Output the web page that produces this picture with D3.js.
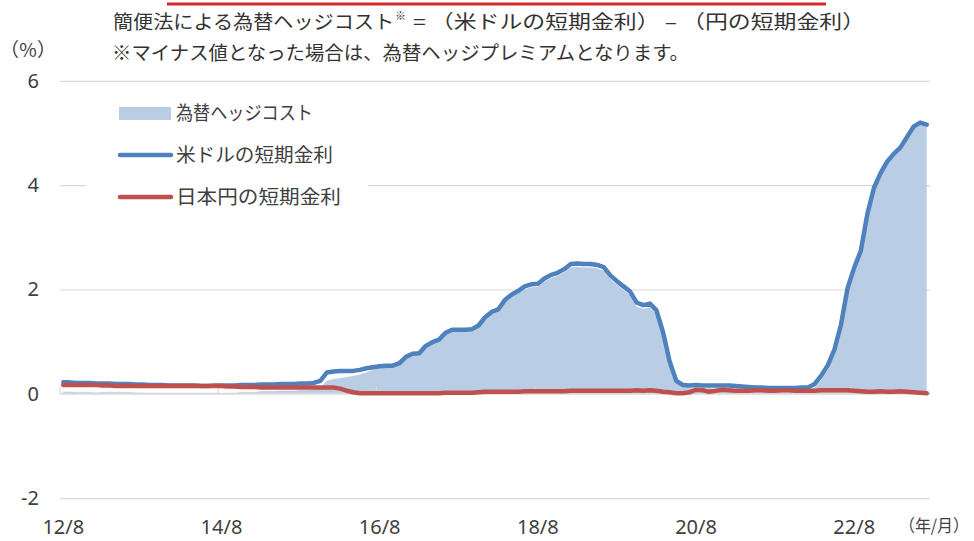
<!DOCTYPE html>
<html><head><meta charset="utf-8">
<script src="https://cdn.jsdelivr.net/npm/d3@7"></script>
<style>
body{margin:0;background:#fff}
svg{display:block}
text{font-family:"Noto Sans CJK JP","Noto Sans",sans-serif}
</style>
</head><body>
<svg id="c" width="974" height="541"></svg>
<script>
// monthly categories 2012/8 .. 2023/7
const months = d3.range(132).map(i => {
  const t = 2012*12 + 7 + i; const yy = Math.floor(t/12), mm = t%12 + 1;
  return String(yy).slice(2) + "/" + mm;
});
const tickLabels = ["12/8","14/8","16/8","18/8","20/8","22/8"];
const yTicks = [-2,0,2,4,6];

// 米ドルの短期金利 (%)
const usRate = [
 0.22,0.22,0.21,0.21,0.21,0.20,0.20,0.20,0.19,0.19,0.19,0.18,
 0.18,0.17,0.17,0.17,0.16,0.16,0.16,0.16,0.16,0.15,0.15,0.16,
 0.16,0.16,0.16,0.17,0.17,0.17,0.18,0.18,0.18,0.19,0.19,0.19,
 0.20,0.20,0.21,0.25,0.41,0.43,0.44,0.44,0.44,0.46,0.49,0.51,
 0.53,0.54,0.54,0.59,0.71,0.77,0.78,0.92,0.99,1.04,1.17,1.23,
 1.23,1.23,1.24,1.31,1.47,1.57,1.62,1.80,1.90,1.97,2.06,2.10,
 2.11,2.21,2.28,2.32,2.39,2.49,2.50,2.49,2.49,2.47,2.43,2.27,
 2.16,2.06,1.96,1.75,1.70,1.73,1.60,1.18,0.62,0.25,0.17,0.16,
 0.17,0.16,0.16,0.16,0.16,0.16,0.15,0.14,0.13,0.12,0.12,0.11,
 0.11,0.11,0.11,0.11,0.12,0.12,0.19,0.35,0.55,0.85,1.33,2.03,
 2.42,2.74,3.45,3.95,4.23,4.45,4.60,4.72,4.92,5.12,5.20,5.16
];
// 日本円の短期金利 (%)
const jpRate = [
 0.17,0.17,0.17,0.17,0.17,0.17,0.16,0.16,0.15,0.15,0.15,0.15,
 0.15,0.15,0.15,0.15,0.15,0.15,0.15,0.15,0.15,0.15,0.15,0.15,
 0.15,0.14,0.14,0.13,0.13,0.13,0.12,0.12,0.12,0.12,0.12,0.12,
 0.12,0.12,0.12,0.12,0.12,0.12,0.10,0.06,0.03,0.01,0.01,0.01,
 0.01,0.01,0.01,0.01,0.01,0.01,0.01,0.01,0.01,0.01,0.02,0.02,
 0.02,0.02,0.02,0.03,0.04,0.04,0.04,0.04,0.04,0.04,0.05,0.05,
 0.05,0.05,0.05,0.05,0.05,0.06,0.06,0.06,0.06,0.06,0.06,0.06,
 0.06,0.06,0.06,0.07,0.06,0.07,0.06,0.04,0.03,0.01,0.01,0.03,
 0.08,0.07,0.04,0.06,0.08,0.07,0.06,0.06,0.06,0.07,0.07,0.06,
 0.06,0.07,0.07,0.06,0.06,0.06,0.06,0.07,0.07,0.07,0.07,0.07,
 0.06,0.05,0.04,0.04,0.05,0.04,0.04,0.05,0.04,0.03,0.02,0.01
];
// 為替ヘッジコスト (%)
const hedgeCost = [
 0.05,0.05,0.04,0.04,0.04,0.03,0.04,0.04,0.04,0.04,0.04,0.03,
 0.03,0.02,0.02,0.02,0.01,0.01,0.01,0.01,0.01,0.00,0.00,0.01,
 0.01,0.02,0.02,0.04,0.04,0.04,0.06,0.06,0.06,0.07,0.07,0.07,
 0.08,0.08,0.09,0.13,0.26,0.29,0.31,0.33,0.35,0.38,0.42,0.47,
 0.52,0.53,0.53,0.58,0.70,0.76,0.77,0.91,0.98,1.03,1.15,1.21,
 1.21,1.21,1.22,1.28,1.43,1.53,1.58,1.76,1.86,1.93,2.01,2.05,
 2.06,2.16,2.23,2.27,2.34,2.43,2.44,2.43,2.43,2.41,2.37,2.21,
 2.10,2.00,1.90,1.68,1.64,1.66,1.54,1.14,0.59,0.24,0.16,0.13,
 0.09,0.09,0.12,0.10,0.08,0.09,0.09,0.08,0.07,0.05,0.05,0.05,
 0.05,0.04,0.04,0.05,0.06,0.06,0.13,0.28,0.48,0.78,1.26,1.96,
 2.36,2.69,3.41,3.91,4.18,4.41,4.56,4.67,4.88,5.09,5.18,5.15
];

const C = {blue:"#4f81bd", red:"#c0504d", area:"#b9cde5", grid:"#d9d9d9", text:"#404040", title:"#333333"};
const numFont = "'Noto Sans','Noto Sans CJK JP',sans-serif";
const svg = d3.select("#c");
const x = d3.scaleBand().domain(months).range([60,930]);
const cx = m => x(m) + x.bandwidth()/2;
const y = d3.scaleLinear().domain([-2,6]).range([498.2,80.8]);

// top red rule
svg.append("line").attr("x1",167).attr("x2",826).attr("y1",4).attr("y2",4)
  .attr("stroke","#d42a2a").attr("stroke-width",3);

// gridlines
svg.append("g").attr("transform","translate(60,0)")
  .call(d3.axisLeft(y).tickValues(yTicks.filter(v=>v!==0)).tickSize(-870).tickFormat(""))
  .call(g=>g.select(".domain").remove())
  .call(g=>g.selectAll("line").attr("stroke",C.grid).attr("stroke-width",1.2));

// y labels
svg.append("g").attr("transform","translate(47,0)")
  .call(d3.axisLeft(y).tickValues(yTicks).tickSize(0).tickPadding(8).tickFormat(d=>String(d)))
  .call(g=>g.select(".domain").remove())
  .call(g=>g.selectAll("text").attr("fill",C.text).style("font-size","20px").style("font-family",numFont));

// area
svg.append("path").datum(months)
  .attr("d", d3.area().x(m=>cx(m)).y0(y(0)).y1((m,i)=>y(hedgeCost[i])))
  .attr("fill",C.area);
svg.append("path").datum(months)
  .attr("d", d3.line().x(m=>cx(m)).y((m,i)=>y(hedgeCost[i])))
  .attr("fill","none").attr("stroke","#ffffff").attr("stroke-width",1).attr("opacity",0.8);

// zero axis line + ticks
svg.append("line").attr("x1",60).attr("x2",930).attr("y1",y(0)).attr("y2",y(0))
  .attr("stroke",C.grid).attr("stroke-width",2);
const tickMonths = months.filter((m,i)=>i%24===0);
svg.append("g").selectAll("line").data(tickMonths).join("line")
  .attr("x1",m=>x(m)).attr("x2",m=>x(m)).attr("y1",y(0)).attr("y2",y(0)-7)
  .attr("stroke",C.grid).attr("stroke-width",1.2);

// lines
const lineGen = arr => d3.line().x(m=>cx(m)).y((m,i)=>y(arr[i]));
svg.append("path").datum(months).attr("d",lineGen(usRate))
  .attr("fill","none").attr("stroke",C.blue).attr("stroke-width",4.5)
  .attr("stroke-linejoin","round").attr("stroke-linecap","round");
svg.append("path").datum(months).attr("d",lineGen(jpRate))
  .attr("fill","none").attr("stroke",C.red).attr("stroke-width",4.5)
  .attr("stroke-linejoin","round").attr("stroke-linecap","round");

// x labels
svg.append("g").attr("transform","translate(0,520)")
  .call(d3.axisBottom(x).tickValues(tickMonths).tickSize(0).tickPadding(0)
    .tickFormat((m,i)=>tickLabels[i]))
  .call(g=>g.select(".domain").remove())
  .call(g=>g.selectAll("text").attr("fill",C.text).attr("dy","0.72em").style("font-size","20px").style("font-family",numFont));
svg.append("text").attr("x",899).attr("y",532).attr("fill",C.text)
  .style("font-size","17px").attr("textLength",70).attr("lengthAdjust","spacingAndGlyphs").text("（年/月）");
svg.append("text").attr("x",0).attr("y",57).attr("fill",C.text)
  .style("font-size","19px").attr("textLength",56).attr("lengthAdjust","spacing").text("（%）");

// titles
svg.append("text").attr("x",113).attr("y",29).attr("fill",C.title).style("font-size","19px")
  .attr("textLength",281).attr("lengthAdjust","spacingAndGlyphs").text("簡便法による為替ヘッジコスト");
svg.append("text").attr("x",395).attr("y",20).attr("fill",C.title).style("font-size","11px").text("※");
svg.append("text").attr("x",413).attr("y",29).attr("fill",C.title).style("font-size","19px")
  .attr("textLength",452).attr("lengthAdjust","spacingAndGlyphs").text("= （米ドルの短期金利） – （円の短期金利）");
svg.append("text").attr("x",112).attr("y",60).attr("fill",C.title).style("font-size","19px")
  .attr("textLength",577).attr("lengthAdjust","spacingAndGlyphs").text("※マイナス値となった場合は、為替ヘッジプレミアムとなります。");

// legend
const lg = svg.append("g");
lg.append("rect").attr("x",86).attr("y",95).attr("width",282).attr("height",120).attr("fill","#fff");
lg.append("rect").attr("x",119).attr("y",107).attr("width",52).attr("height",13).attr("fill",C.area);
lg.append("line").attr("x1",120).attr("x2",171).attr("y1",155).attr("y2",155)
  .attr("stroke",C.blue).attr("stroke-width",4.5).attr("stroke-linecap","round");
lg.append("line").attr("x1",120).attr("x2",171).attr("y1",197).attr("y2",197)
  .attr("stroke",C.red).attr("stroke-width",4.5).attr("stroke-linecap","round");
const legItems = [["為替ヘッジコスト",113,137],["米ドルの短期金利",155,157],["日本円の短期金利",197,165]];
lg.selectAll("text.l").data(legItems).join("text").attr("class","l")
  .attr("x",176).attr("y",d=>d[1]).attr("dy","0.36em").attr("fill",C.text)
  .style("font-size","19px").attr("textLength",d=>d[2]).attr("lengthAdjust","spacingAndGlyphs")
  .text(d=>d[0]);
</script>
</body></html>
